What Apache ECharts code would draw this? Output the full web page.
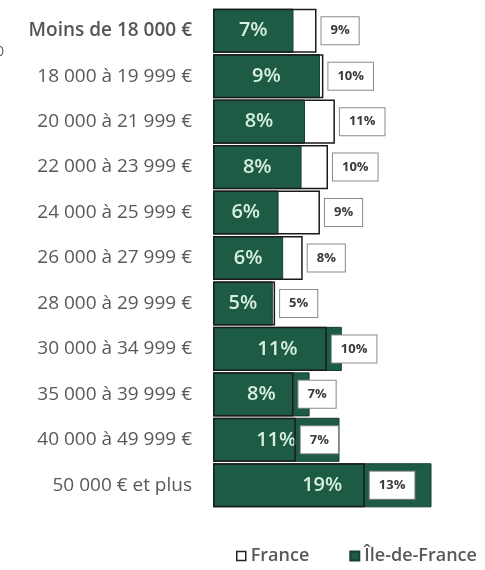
<!DOCTYPE html>
<html>
<head>
<meta charset="utf-8">
<script src="https://cdn.jsdelivr.net/npm/echarts@6/dist/echarts.min.js"></script>
<style>html,body{margin:0;padding:0;background:#fff;}#c{width:485px;height:570px;}</style>
</head>
<body>
<div id="c"></div>
<script>
const categories = ['Moins de 18 000 €','18 000 à 19 999 €','20 000 à 21 999 €','22 000 à 23 999 €','24 000 à 25 999 €','26 000 à 27 999 €','28 000 à 29 999 €','30 000 à 34 999 €','35 000 à 39 999 €','40 000 à 49 999 €','50 000 € et plus'];
const franceValues = [9.0, 9.6, 10.6, 10.0, 9.3, 7.8, 5.4, 9.9, 7.0, 7.2, 13.2];
const idfValues = [7.0, 9.3, 8.0, 7.7, 5.7, 6.1, 5.2, 11.2, 8.4, 11.0, 19.0];
const seriesNames = ['France', 'Île-de-France'];

const green = '#1e5b44';
const font = 'Open Sans';
const chart = echarts.init(document.getElementById('c'));
chart.setOption({
  animation: false,
  textStyle: { fontFamily: font },
  grid: { left: 213, right: 19, top: 8, bottom: 62, containLabel: false },
  xAxis: { type: 'value', min: 0, max: 22, show: false },
  yAxis: {
    type: 'category', data: categories, inverse: true,
    axisLine: { show: false }, axisTick: { show: false },
    axisLabel: {
      margin: 21, fontSize: 19, color: '#595959', fontFamily: font,
      formatter: (v, i) => i === 0 ? '{b|' + v + '}' : v,
      rich: { b: { fontSize: 19, fontWeight: 600, color: '#555', fontFamily: font } }
    }
  },
  legend: {
    bottom: 0, left: 231, itemWidth: 9, itemHeight: 9, itemGap: 40,
    textStyle: { fontSize: 18, color: '#595959', fontWeight: 600, fontFamily: font },
    data: [
      { name: seriesNames[0], icon: 'rect', itemStyle: { color: '#fff', borderColor: '#222', borderWidth: 1.5 } },
      { name: seriesNames[1], icon: 'rect', itemStyle: { color: green } }
    ]
  },
  graphic: [{ type: 'text', left: -4, top: 45, style: { text: '0', fontSize: 14, fill: '#5a6270', fontFamily: font } }],
  series: [
    {
      name: seriesNames[1], type: 'bar', data: idfValues,
      barCategoryGap: '3%', barGap: '-100%',
      itemStyle: { color: green, borderColor: '#173f30', borderWidth: 1 },
      label: {
        show: true, position: 'inside', fontSize: 20, fontWeight: 600, color: '#d6efe1', fontFamily: font,
        formatter: p => Math.round(p.value) + '%'
      },
      z: 2
    },
    {
      name: seriesNames[0], type: 'bar', data: franceValues,
      barCategoryGap: '3%', barGap: '-100%',
      itemStyle: { color: 'rgba(0,0,0,0)', borderColor: '#1a1a1a', borderWidth: 1.5 },
      label: {
        show: true, position: 'right', distance: 5, fontSize: 13, fontWeight: 'bold', color: '#3a3a3a', fontFamily: font,
        backgroundColor: '#fff', borderColor: '#8a8a8a', borderWidth: 1, padding: [7, 9, 7, 9],
        formatter: p => Math.round(p.value) + '%'
      },
      z: 3
    }
  ]
});
</script>
</body>
</html>
